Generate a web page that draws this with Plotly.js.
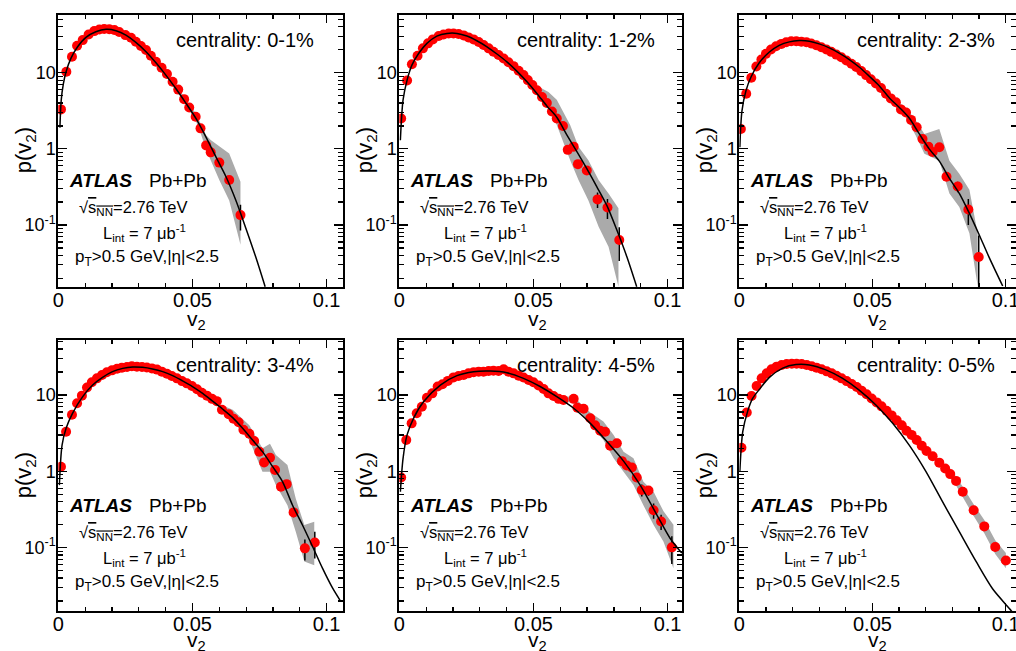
<!DOCTYPE html>
<html><head><meta charset="utf-8">
<script src="https://cdn.plot.ly/plotly-3.0.1.min.js"></script>
<style>body{margin:0;background:#fff}#chart{width:1016px;height:651px}</style>
</head><body><div id="chart"></div>
<script>
// ---------------- data ----------------
const labels = ["centrality: 0-1%","centrality: 1-2%","centrality: 2-3%","centrality: 3-4%","centrality: 4-5%","centrality: 0-5%"];

// panel 1 : 0-1%
const p1X = [0.0010,0.0030,0.0051,0.0070,0.0091,0.0113,0.0134,0.0153,0.0171,0.0190,0.0209,0.0227,0.0250,0.0271,0.0289,0.0308,0.0327,0.0345,0.0364,0.0385,0.0405,0.0426,0.0447,0.0469,0.0488,0.0512,0.0530,0.0551,0.0568,0.0600,0.0637,0.0679];
const p1Y = [3.3,10.3,16.2,22.6,26.8,31.8,35.2,37.0,37.5,37.2,36.3,34.2,31.2,28.8,25.5,22.4,19.9,16.7,13.9,11.6,9.6,7.6,6.0,4.5,3.5,2.64,1.86,1.11,0.90,0.66,0.39,0.135];
const p1E = [0,0,0,0,0,0,0,0,0,0,0,0,0,0,0,0,0,0,0,0,0,0,0,0,0,0,0,0,0.03,0.04,0.05,0.05];
const b1X = [0.0447,0.0469,0.0488,0.0512,0.0530,0.0551,0.0568,0.0600,0.0637,0.0679];
const b1Lo = [5.7,4.2,3.2,2.35,1.63,0.97,0.71,0.39,0.21,0.055];
const b1Hi = [6.3,4.8,3.8,2.95,2.12,1.51,1.31,1.07,0.87,0.37];
const c1X = [0.0006,0.0011,0.0019,0.0029,0.0047,0.0072,0.0103,0.0140,0.0178,0.0215,0.0252,0.0289,0.0327,0.0364,0.0401,0.0438,0.0476,0.0513,0.0550,0.0587,0.0625,0.0662,0.0699,0.0736,0.0771];
const c1Y = [1.9,4.4,7.2,10.3,15.4,21.9,29.1,34.5,37.1,35.6,31.2,25.0,18.9,13.5,9.3,6.2,3.96,2.51,1.44,0.79,0.43,0.21,0.091,0.038,0.0155];

// panel 2 : 1-2%
const p2X = [0.0007,0.0029,0.0047,0.0068,0.0088,0.0107,0.0125,0.0147,0.0165,0.0184,0.0202,0.0221,0.0240,0.0258,0.0277,0.0296,0.0314,0.0333,0.0351,0.0370,0.0389,0.0407,0.0426,0.0445,0.0463,0.0479,0.0496,0.0513,0.0532,0.0550,0.0569,0.0587,0.0610,0.0628,0.0650,0.0666,0.0699,0.0739,0.0776,0.0820];
const p2Y = [2.5,7.9,12.9,16.7,20.9,24.3,27.4,30.3,31.8,32.8,32.8,32.2,30.9,29.1,27.4,25.3,23.1,20.9,18.9,17.1,15.4,13.7,12.2,10.6,9.3,8.0,6.9,5.9,4.8,4.0,3.1,2.5,2.0,0.97,1.07,0.63,0.52,0.217,0.17,0.0636];
const p2E = [0,0,0,0,0,0,0,0,0,0,0,0,0,0,0,0,0,0,0,0,0,0,0,0,0,0,0,0,0,0,0,0,0,0,0,0.08,0.06,0.05,0.05,0.03];
const b2X = [0.0513,0.0525,0.0556,0.0587,0.0637,0.0668,0.0705,0.0743,0.0780,0.0817];
const b2Lo = [5.6,5.1,3.6,2.06,0.71,0.39,0.21,0.095,0.052,0.0155];
const b2Hi = [6.2,6.4,5.6,4.4,2.06,1.07,0.71,0.39,0.26,0.166];
const c2X = [0.0004,0.0014,0.0029,0.0047,0.0072,0.0103,0.0140,0.0178,0.0215,0.0252,0.0289,0.0327,0.0364,0.0401,0.0438,0.0476,0.0513,0.0550,0.0587,0.0625,0.0662,0.0699,0.0736,0.0774,0.0811,0.0848,0.0885];
const c2Y = [1.3,4.4,8.0,12.6,17.9,24.3,30.3,32.8,32.8,30.3,26.3,21.9,17.6,13.9,10.5,7.6,5.35,3.66,2.6,1.52,0.92,0.55,0.32,0.18,0.086,0.0386,0.0155];

// panel 3 : 2-3%
const p3X = [0.0006,0.0026,0.0045,0.0064,0.0083,0.0100,0.0119,0.0138,0.0158,0.0176,0.0195,0.0214,0.0233,0.0252,0.0270,0.0289,0.0308,0.0327,0.0345,0.0364,0.0383,0.0402,0.0421,0.0439,0.0458,0.0476,0.0494,0.0513,0.0532,0.0551,0.0569,0.0588,0.0607,0.0626,0.0645,0.0666,0.0688,0.0710,0.0726,0.0751,0.0778,0.0820,0.0860,0.0899];
const p3Y = [1.82,5.3,8.6,12.1,14.9,17.7,20.2,22.3,23.9,25.1,25.9,25.9,25.6,25.1,24.2,23.0,21.6,20.2,18.8,17.3,16.0,14.5,13.1,11.9,10.5,9.3,8.2,7.2,6.3,5.3,4.6,4.1,3.3,3.0,2.4,1.92,1.35,1.07,0.91,1.05,0.43,0.32,0.16,0.038];
const p3E = [0,0,0,0,0,0,0,0,0,0,0,0,0,0,0,0,0,0,0,0,0,0,0,0,0,0,0,0,0,0,0,0,0,0,0,0,0,0,0.06,0.06,0.04,0.05,0.06,0.035];
const b3X = [0.0513,0.0563,0.0626,0.0663,0.0695,0.0751,0.0789,0.0826,0.0864,0.0895];
const b3Lo = [6.9,4.3,2.6,1.49,0.86,0.70,0.26,0.173,0.078,0.0158];
const b3Hi = [7.5,4.97,3.5,2.35,1.57,1.82,0.70,0.47,0.29,0.078];
const c3X = [0.0002,0.0010,0.0025,0.0044,0.0075,0.0113,0.0150,0.0188,0.0225,0.0263,0.0300,0.0338,0.0375,0.0413,0.0451,0.0488,0.0526,0.0563,0.0601,0.0638,0.0676,0.0713,0.0751,0.0789,0.0826,0.0864,0.0901,0.0939,0.0989];
const c3Y = [1.05,3.16,5.8,8.8,13.5,18.7,22.9,25.4,26.4,25.9,23.9,21.2,18.1,14.9,11.8,9.0,6.7,4.7,3.5,2.54,1.57,1.0,0.69,0.41,0.26,0.142,0.074,0.037,0.0158];

// panel 4 : 3-4%
const p4X = [0.0010,0.0029,0.0051,0.0070,0.0088,0.0107,0.0125,0.0144,0.0163,0.0181,0.0200,0.0219,0.0237,0.0256,0.0274,0.0293,0.0312,0.0330,0.0349,0.0368,0.0386,0.0405,0.0423,0.0442,0.0461,0.0479,0.0498,0.0517,0.0535,0.0554,0.0573,0.0591,0.0610,0.0635,0.0653,0.0672,0.0690,0.0712,0.0730,0.0749,0.0767,0.0789,0.0808,0.0830,0.0851,0.0877,0.0919,0.0956];
const p4Y = [1.15,3.3,5.5,7.8,9.8,12.5,14.7,16.5,18.3,19.8,21.0,22.1,22.8,23.3,23.8,23.5,23.3,22.9,22.3,21.5,20.2,19.0,17.7,16.5,15.2,14.2,13.1,11.9,10.7,9.8,8.9,8.3,6.4,5.6,4.9,4.4,3.5,3.1,2.5,1.81,1.31,1.51,1.04,0.63,0.68,0.29,0.098,0.117];
const p4E = [0,0,0,0,0,0,0,0,0,0,0,0,0,0,0,0,0,0,0,0,0,0,0,0,0,0,0,0,0,0,0,0,0,0,0,0,0,0,0,0,0,0,0,0.06,0.06,0.04,0.03,0.045];
const b4X = [0.0600,0.0650,0.0712,0.0761,0.0789,0.0811,0.0854,0.0885,0.0917,0.0954];
const b4Lo = [6.9,4.5,2.57,0.99,0.99,0.66,0.36,0.162,0.066,0.059];
const b4Hi = [7.6,6.4,4.0,2.0,2.3,1.64,1.21,0.44,0.198,0.219];
const c4X = [0.0004,0.0014,0.0029,0.0053,0.0091,0.0128,0.0165,0.0202,0.0240,0.0277,0.0314,0.0351,0.0389,0.0426,0.0463,0.0500,0.0538,0.0575,0.0612,0.0650,0.0687,0.0724,0.0761,0.0799,0.0836,0.0873,0.0910,0.0948,0.0985,0.1022,0.1053];
const c4Y = [0.66,2.2,3.66,5.75,9.5,13.5,17.0,20.2,22.3,23.3,23.0,21.9,20.2,17.9,15.3,12.9,10.5,8.3,6.55,5.05,3.66,2.57,1.81,1.15,0.73,0.36,0.198,0.103,0.0535,0.0297,0.0197];

// panel 5 : 4-5%
const p5X = [0.0007,0.0026,0.0046,0.0065,0.0084,0.0103,0.0123,0.0143,0.0161,0.0181,0.0202,0.0221,0.0240,0.0258,0.0277,0.0296,0.0314,0.0333,0.0351,0.0370,0.0389,0.0407,0.0426,0.0445,0.0463,0.0482,0.0500,0.0519,0.0538,0.0556,0.0575,0.0594,0.0612,0.0650,0.0664,0.0687,0.0712,0.0730,0.0749,0.0767,0.0786,0.0811,0.0830,0.0848,0.0867,0.0885,0.0904,0.0929,0.0948,0.0976,0.1016];
const p5Y = [0.83,2.57,4.25,5.75,7.0,9.2,10.5,12.9,13.8,15.3,17.0,17.7,18.3,19.2,19.8,20.2,20.2,20.6,20.8,20.6,21.7,20.2,19.2,17.9,16.9,15.7,14.7,13.3,12.0,10.5,9.7,8.9,8.6,8.9,6.8,6.6,4.95,4.0,3.4,3.3,2.17,2.33,1.36,1.19,1.12,0.83,0.57,0.56,0.31,0.22,0.101];
const p5E = [0,0,0,0,0,0,0,0,0,0,0,0,0,0,0,0,0,0,0,0,0,0,0,0,0,0,0,0,0,0,0,0,0,0,0,0,0,0,0,0,0,0,0,0,0,0,0.1,0.08,0.07,0.05,0.04];
const b5X = [0.0587,0.0650,0.0712,0.0761,0.0799,0.0836,0.0873,0.0910,0.0948,0.0985,0.1022];
const b5Lo = [8.6,7.8,4.0,2.57,1.48,0.99,0.66,0.36,0.198,0.12,0.054];
const b5Hi = [9.6,9.5,5.9,4.5,3.0,1.81,1.48,0.73,0.54,0.30,0.2];
const c5X = [0.0004,0.0014,0.0029,0.0053,0.0091,0.0153,0.0215,0.0277,0.0339,0.0401,0.0463,0.0525,0.0587,0.0650,0.0712,0.0774,0.0836,0.0898,0.0960,0.1010,0.1053];
const c5Y = [0.54,1.48,3.0,4.95,8.2,13.5,17.9,20.2,20.6,19.6,16.5,12.9,9.5,6.7,4.25,2.45,1.36,0.66,0.27,0.132,0.085];

// panel 6 : 0-5%
const p6X = [0.0008,0.0028,0.0046,0.0065,0.0084,0.0103,0.0121,0.0140,0.0159,0.0178,0.0197,0.0215,0.0234,0.0253,0.0272,0.0290,0.0309,0.0328,0.0347,0.0365,0.0384,0.0403,0.0422,0.0441,0.0459,0.0478,0.0497,0.0516,0.0534,0.0553,0.0572,0.0591,0.0610,0.0628,0.0647,0.0666,0.0685,0.0703,0.0726,0.0751,0.0773,0.0792,0.0814,0.0839,0.0880,0.0920,0.0961,0.1001];
const p6Y = [2.04,5.9,9.7,13.1,16.5,19.2,21.7,23.5,24.7,25.5,25.7,25.7,25.5,24.7,23.8,22.8,21.7,20.4,19.2,17.9,16.5,15.2,13.9,12.7,11.4,10.2,9.0,8.0,7.1,6.2,5.4,4.65,4.0,3.4,3.0,2.57,2.17,1.85,1.58,1.30,1.09,0.92,0.75,0.54,0.31,0.19,0.102,0.068];
const p6E = [0,0,0,0,0,0,0,0,0,0,0,0,0,0,0,0,0,0,0,0,0,0,0,0,0,0,0,0,0,0,0,0,0,0,0,0,0,0,0,0,0,0,0,0,0,0,0,0];
const b6X = [0.0751,0.0773,0.0792,0.0814,0.0839,0.0880,0.0920,0.0961,0.1001];
const b6Lo = [1.2,0.98,0.82,0.65,0.46,0.26,0.155,0.083,0.054];
const b6Hi = [1.42,1.2,1.03,0.86,0.63,0.37,0.23,0.125,0.085];
const c6X = [0.0002,0.0013,0.0031,0.0050,0.0075,0.0113,0.0163,0.0213,0.0263,0.0325,0.0388,0.0450,0.0513,0.0576,0.0638,0.0701,0.0763,0.0826,0.0889,0.0951,0.1014,0.1039];
const c6Y = [1.0,3.3,6.05,9.0,11.8,17.0,22.5,25.0,24.7,21.3,16.5,11.6,7.4,4.25,2.2,0.99,0.40,0.162,0.066,0.029,0.016,0.0125];

const xTickVals = [0, 0.05, 0.1];
const xTickText = ["0", "0.05", "0.1"];
const yTickVals = [0.1, 1, 10];
const yTickText = ["10<sup>-1</sup>", "1", "10"];

// ---------------- build ----------------
const P = [
  {x:p1X,y:p1Y,e:p1E,bx:b1X,blo:b1Lo,bhi:b1Hi,cx:c1X,cy:c1Y},
  {x:p2X,y:p2Y,e:p2E,bx:b2X,blo:b2Lo,bhi:b2Hi,cx:c2X,cy:c2Y},
  {x:p3X,y:p3Y,e:p3E,bx:b3X,blo:b3Lo,bhi:b3Hi,cx:c3X,cy:c3Y},
  {x:p4X,y:p4Y,e:p4E,bx:b4X,blo:b4Lo,bhi:b4Hi,cx:c4X,cy:c4Y},
  {x:p5X,y:p5Y,e:p5E,bx:b5X,blo:b5Lo,bhi:b5Hi,cx:c5X,cy:c5Y},
  {x:p6X,y:p6Y,e:p6E,bx:b6X,blo:b6Lo,bhi:b6Hi,cx:c6X,cy:c6Y}
];
const W = 1016, H = 651;
const FONT = "Liberation Sans, Arial, Helvetica, sans-serif";
const cols = [{l:58.3,r:342.7,xmax:0.106},{l:399.3,r:682.3,xmax:0.1055},{l:739.3,r:1016,xmax:0.1039}];
const rows = [{t:15,b:287.3,lo:-1.818,hi:1.758,tt:33},{t:340,b:611,lo:-1.829,hi:1.72,tt:30}];

const xMinor = [0.01,0.02,0.03,0.04,0.06,0.07,0.08,0.09];
const yMinor = [0.02,0.03,0.04,0.05,0.06,0.07,0.08,0.09,0.2,0.3,0.4,0.5,0.6,0.7,0.8,0.9,2,3,4,5,6,7,8,9,20,30,40,50];

const data = [];
const layout = {
  width: W, height: H, margin: {l:0,r:0,t:0,b:0},
  paper_bgcolor: "#fff", plot_bgcolor: "#fff", showlegend: false,
  font: {family: FONT, color: "#000"},
  annotations: [], shapes: []
};
const px = v => v / W, py = v => 1 - v / H;

P.forEach((p, i) => {
  const r = Math.floor(i / 3), c = i % 3;
  const C = cols[c], R = rows[r];
  const s = i === 0 ? "" : String(i + 1);
  const xr = "x" + s, yr = "y" + s;
  // systematic band
  data.push({
    x: p.bx.concat(p.bx.slice().reverse()),
    y: p.bhi.concat(p.blo.slice().reverse()),
    xaxis: xr, yaxis: yr, type: "scatter", mode: "lines",
    fill: "toself", fillcolor: "rgb(170,170,170)", line: {width: 0, color: "rgba(0,0,0,0)"},
    hoverinfo: "skip"
  });
  // data points
  data.push({
    x: p.x, y: p.y, xaxis: xr, yaxis: yr, type: "scatter", mode: "markers",
    marker: {color: "#ff0000", size: 10},
    error_y: {type: "data", array: p.e, symmetric: true, color: "#000", thickness: 1.5, width: 0}
  });
  // fit curve
  data.push({
    x: p.cx, y: p.cy, xaxis: xr, yaxis: yr, type: "scatter", mode: "lines",
    line: {color: "#000", width: 1.5, shape: "spline", smoothing: 0.8}
  });

  layout["xaxis" + s] = {
    domain: [px(C.l), px(C.r)], range: [0, C.xmax], anchor: yr,
    tickmode: "array", tickvals: xTickVals, ticktext: xTickText,
    ticks: "inside", ticklen: 8, tickwidth: 1.2, tickcolor: "#000",
    showline: true, linewidth: 2, linecolor: "#000", mirror: "allticks",
    showgrid: false, zeroline: false, fixedrange: true, ticklabeloverflow: "allow",
    ticklabelstandoff: -6,
    tickfont: {family: FONT, size: 20, color: "#000"},
    minor: {tickmode: "array", tickvals: xMinor, ticks: "inside", ticklen: 4, tickwidth: 1.2, tickcolor: "#000", showgrid: false}
  };
  layout["yaxis" + s] = {
    domain: [py(R.b), py(R.t)], type: "log", range: [R.lo, R.hi], anchor: xr,
    tickmode: "array", tickvals: yTickVals, ticktext: yTickText,
    ticks: "inside", ticklen: 9, tickwidth: 1.2, tickcolor: "#000",
    showline: true, linewidth: 2, linecolor: "#000", mirror: "allticks",
    showgrid: false, zeroline: false, fixedrange: true, ticklabeloverflow: "allow",
    ticklabelstandoff: -3,
    tickfont: {family: FONT, size: 18, color: "#000"},
    minor: {tickmode: "array", tickvals: yMinor, ticks: "inside", ticklen: 5, tickwidth: 1.2, tickcolor: "#000", showgrid: false}
  };

  const A = (relx, rely, text, opt) => Object.assign({
    xref: "paper", yref: "paper", x: px(C.l + relx), y: py(R.t + rely),
    text: text, showarrow: false, xanchor: "left", yanchor: "middle",
    font: {family: FONT, size: 16, color: "#000"}
  }, opt || {});
  const ann = layout.annotations;
  ann.push(A(258, 25, labels[i], {xanchor: "right", font: {family: FONT, size: 20, color: "#000"}}));
  ann.push(A(8.7, 165, "ATLAS", {font: {family: FONT, size: 19, color: "#000", weight: "bold", style: "italic"}}));
  ann.push(A(88.7, 165, "Pb+Pb", {font: {family: FONT, size: 19, color: "#000"}}));
  ann.push(A(18.7, 193, '√<span style="text-decoration:overline">s<sub>NN</sub></span>=2.76 TeV', {font: {family: FONT, size: 16.5, color: "#000"}}));
  ann.push(A(42.7, 218, "L<sub>int</sub> = 7 μb<sup>-1</sup>", {font: {family: FONT, size: 16.5, color: "#000"}}));
  ann.push(A(14.7, 243, "p<sub>T</sub>&gt;0.5 GeV,|η|&lt;2.5", {font: {family: FONT, size: 17, color: "#000"}}));
  ann.push(A(-33, 135, "p(v<sub>2</sub>)", {xanchor: "center", textangle: -90, font: {family: FONT, size: 22, color: "#000"}}));
  ann.push(A(138, (R.b - R.t) + R.tt, "v<sub>2</sub>", {xanchor: "center", font: {family: FONT, size: 21, color: "#000"}}));
});

Plotly.newPlot("chart", data, layout, {displayModeBar: false, staticPlot: true});
</script>
</body></html>
